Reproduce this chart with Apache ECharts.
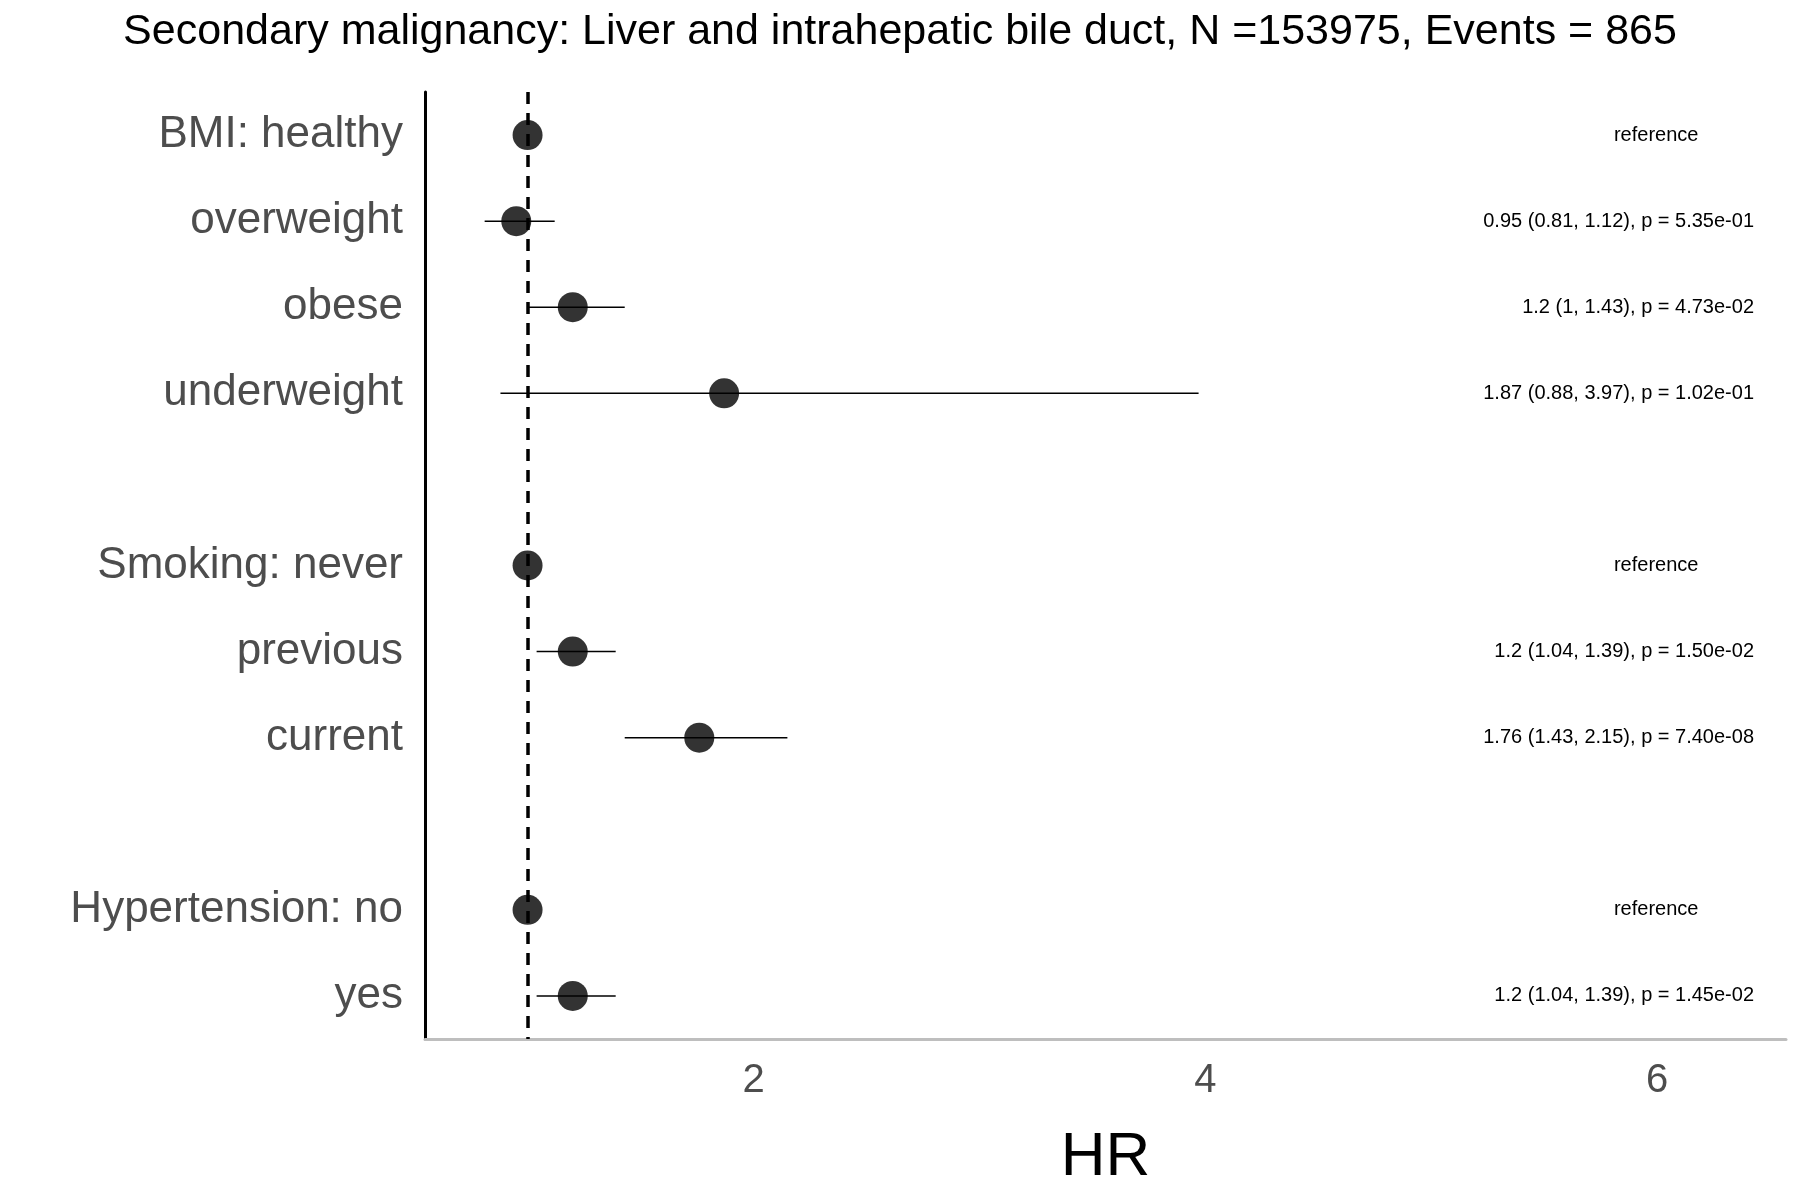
<!DOCTYPE html>
<html><head><meta charset="utf-8">
<script src="https://cdn.jsdelivr.net/npm/echarts@6/dist/echarts.min.js"></script>
<style>html,body{margin:0;padding:0;background:#fff}#c{width:1800px;height:1200px}</style>
</head><body><div id="c"></div>
<script>
const labels = ['BMI: healthy','overweight','obese','underweight','','Smoking: never','previous','current','','Hypertension: no','yes'];
const hr   = [1, 0.95, 1.2, 1.87, null, 1, 1.2, 1.76, null, 1, 1.2];
const lo   = [null, 0.81, 1, 0.88, null, null, 1.04, 1.43, null, null, 1.04];
const hi   = [null, 1.12, 1.43, 3.97, null, null, 1.39, 2.15, null, null, 1.39];
const txt  = ['reference','0.95 (0.81, 1.12), p = 5.35e-01','1.2 (1, 1.43), p = 4.73e-02','1.87 (0.88, 3.97), p = 1.02e-01','','reference','1.2 (1.04, 1.39), p = 1.50e-02','1.76 (1.43, 2.15), p = 7.40e-08','','reference','1.2 (1.04, 1.39), p = 1.45e-02'];
const xTicks = [2,4,6];

const ch = echarts.init(document.getElementById('c'));
const ci = [];
labels.forEach((l,i)=>{ if(lo[i]!=null) ci.push([lo[i],hi[i],i]); });
const pts = [];
labels.forEach((l,i)=>{ if(hr[i]!=null) pts.push([hr[i],i]); });
ch.setOption({
  animation:false,
  title:{text:'Secondary malignancy: Liver and intrahepatic bile duct, N =153975, Events = 865',left:'center',top:6,
    textStyle:{fontFamily:'Liberation Sans',fontWeight:'normal',fontSize:43,color:'#000'}},
  grid:{left:425,right:14,top:92,bottom:161},
  xAxis:{type:'value',min:0.546,max:6.57,
    name:'HR',nameLocation:'middle',nameGap:88,nameTextStyle:{fontFamily:'Liberation Sans',fontSize:62,color:'#000'},
    axisLine:{show:true,lineStyle:{color:'#bebebe',width:3}},axisTick:{show:false},splitLine:{show:false},
    axisLabel:{fontFamily:'Liberation Sans',fontSize:40,color:'#4d4d4d',margin:22,
      customValues:xTicks,formatter:v=>xTicks.includes(Math.round(v*1000)/1000)?String(v):''}},
  yAxis:[{type:'category',data:labels,inverse:true,
    axisLine:{show:true,onZero:false,lineStyle:{color:'#000',width:3}},axisTick:{show:false},
    axisLabel:{fontFamily:'Liberation Sans',fontSize:44,color:'#4d4d4d',margin:22}},
   {type:'category',data:txt,inverse:true,position:'right',
    axisLine:{show:false},axisTick:{show:false},
    axisLabel:{inside:true,margin:32,fontFamily:'Liberation Sans',fontSize:20,color:'#000',
      formatter:v=>v==='reference'?v+'          ':v}}],
  series:[
   {type:'custom',data:ci,renderItem:(p,api)=>{
      const a=api.coord([api.value(0),api.value(2)]),b=api.coord([api.value(1),api.value(2)]);
      return {type:'line',shape:{x1:a[0],y1:a[1],x2:b[0],y2:b[1]},style:{stroke:'#000',lineWidth:1.5}};},
    encode:{x:[0,1],y:2},z:2},
   {type:'scatter',data:pts,symbolSize:30,itemStyle:{color:'#000'},z:4,
    markLine:{silent:true,symbol:'none',label:{show:false},lineStyle:{type:[12,9],color:'#000',width:3.5},data:[{xAxis:1}]}}
  ]
});
</script></body></html>
